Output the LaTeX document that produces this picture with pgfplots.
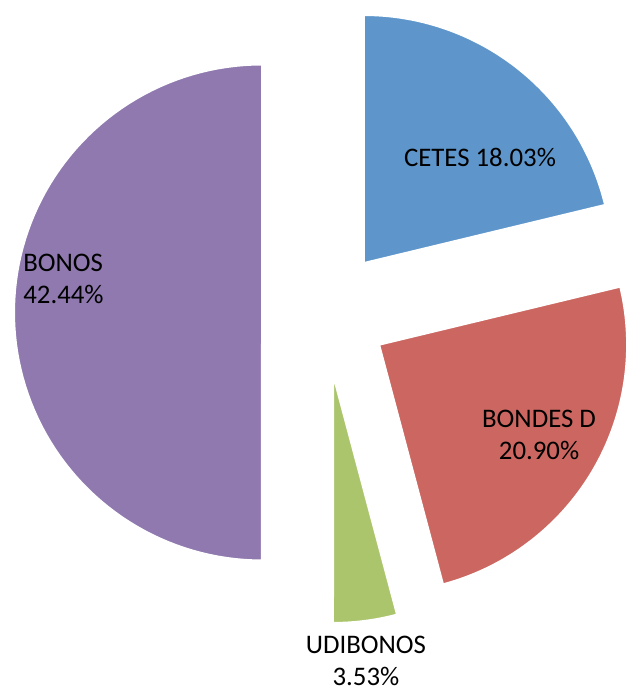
\documentclass[border=0pt]{standalone}
\usepackage{pgfplots}
\pgfplotsset{compat=1.18}
\usepackage{fontspec}
\setmainfont{Carlito}

\definecolor{cetes}{RGB}{94,150,203}
\definecolor{bondes}{RGB}{204,102,96}
\definecolor{udibonos}{RGB}{171,197,108}
\definecolor{bonos}{RGB}{143,121,175}

% shares as printed on the chart (they add up to 84.90, slices are scaled to that)
\def\pctCetes{18.03}
\def\pctBondes{20.90}
\def\pctUdi{3.53}
\def\pctBonos{42.44}
\pgfmathsetmacro\total{\pctCetes+\pctBondes+\pctUdi+\pctBonos}
\pgfmathsetmacro\aA{90}
\pgfmathsetmacro\aB{\aA-\pctCetes/\total*360}
\pgfmathsetmacro\aC{\aB-\pctBondes/\total*360}
\pgfmathsetmacro\aD{\aC-\pctUdi/\total*360}
\pgfmathsetmacro\aE{\aD-\pctBonos/\total*360}
\def\explode{0.254}

% one exploded wedge, radius 1, from angle #1 to #2
\newcommand\pieslice[3]{%
  \pgfmathsetmacro\mid{(#1+#2)/2}%
  \pgfmathsetmacro\ox{\explode*cos(\mid)}%
  \pgfmathsetmacro\oy{\explode*sin(\mid)}%
  \edef\doslice{\noexpand\addplot[fill=#3, draw=white, line width=1pt,
    line join=round, domain=#1:#2, samples=90, variable=\noexpand\t]
    ({\ox+cos(\noexpand\t)},{\oy+sin(\noexpand\t)}) -- (axis cs:\ox,\oy) -- cycle;}%
  \doslice
}

\begin{document}
\begin{tikzpicture}[every node/.style={font=\fontsize{13.4pt}{16pt}\selectfont, inner sep=0pt}]
\begin{axis}[
    x=124pt, y=124pt,
    xmin=-1.3105, xmax=1.2218,
    ymin=-1.5181, ymax=1.2601,
    hide axis, clip=false,
  ]
  \pieslice{\aA}{\aB}{cetes}
  \pieslice{\aB}{\aC}{bondes}
  \pieslice{\aC}{\aD}{udibonos}
  \pieslice{\aD}{\aE}{bonos}

  \node at (axis cs:0.625,0.627) {CETES 18.03\%};
  \node[align=center] at (axis cs:0.863,-0.494) {BONDES D\\20.90\%};
  \node[align=center] at (axis cs:0.165,-1.403) {UDIBONOS\\3.53\%};
  \node[align=left, anchor=west] at (axis cs:-1.218,0.135) {BONOS\\42.44\%};
\end{axis}
% the picture is exactly the axis frame
\pgfresetboundingbox
\path (current axis.south west) rectangle (current axis.north east);
\end{tikzpicture}
\end{document}
